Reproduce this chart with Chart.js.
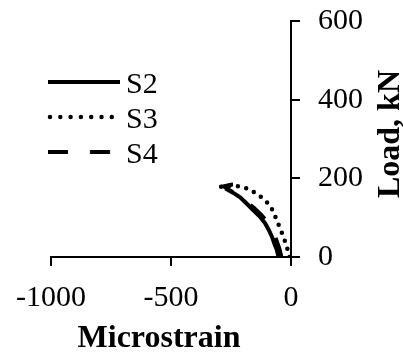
<!DOCTYPE html>
<html>
<head>
<meta charset="utf-8">
<script src="https://cdn.jsdelivr.net/npm/chart.js@4.4.1/dist/chart.umd.min.js"></script>
<style>
html,body{margin:0;padding:0;background:#fff;}
#wrap{width:403px;height:354px;position:relative;}
</style>
</head>
<body>
<div id="wrap"><canvas id="c" width="403" height="354"></canvas></div>
<script>
const seriesNames = ['S2', 'S3', 'S4'];
const s2X = [-52, -60, -70, -79, -92, -108, -130, -158, -185, -212, -240, -262, -272];
const s2Y = [0, 20, 35, 51, 68, 86, 103, 119, 136, 152, 163, 170, 174];
const s3X = [-6, -17, -31, -45, -59, -73, -87, -115, -142, -181, -238, -280, -324];
const s3Y = [0, 25, 51, 72, 93, 114, 131, 148, 161, 174, 182, 180, 175];
const s4X = [-40, -48, -58, -68, -82, -100, -125, -155, -185, -215, -245, -268, -280, -250, -215, -195];
const s4Y = [0, 20, 38, 55, 72, 90, 108, 125, 140, 154, 166, 174, 180, 184, 185, 182];
const xTicks = [-1000, -500, 0];
const yTicks = [0, 200, 400, 600];
const xTitle = 'Microstrain';
const yTitle = 'Load, kN';

const toPts = (xs, ys) => xs.map((x, i) => ({x: x, y: ys[i]}));
const styles = [
  {borderWidth: 4, borderDash: [], borderCapStyle: 'butt'},
  {borderWidth: 4.5, borderDash: [0, 8.5], borderCapStyle: 'round'},
  {borderWidth: 4, borderDash: [20, 22], borderCapStyle: 'butt'}
];
const legendDash = [[], [0, 10.3], [20, 22]];
const dataSets = [toPts(s2X, s2Y), toPts(s3X, s3Y), toPts(s4X, s4Y)];

const serif = '"Liberation Serif", "Times New Roman", serif';

const overlay = {
  id: 'overlay',
  afterDraw(chart) {
    const ctx = chart.ctx;
    ctx.save();
    ctx.fillStyle = '#000';
    ctx.font = 'bold 32px ' + serif;
    ctx.textAlign = 'center';
    ctx.textBaseline = 'alphabetic';
    ctx.fillText(xTitle, 159, 347);
    ctx.save();
    ctx.translate(399, 134);
    ctx.rotate(-Math.PI / 2);
    ctx.fillText(yTitle, 0, 0);
    ctx.restore();
    // legend
    const rowsY = [82, 117, 152];
    ctx.font = '30px ' + serif;
    ctx.textAlign = 'left';
    seriesNames.forEach((n, i) => {
      const st = styles[i];
      ctx.beginPath();
      ctx.lineWidth = st.borderWidth;
      ctx.setLineDash(legendDash[i]);
      ctx.lineCap = st.borderCapStyle;
      ctx.strokeStyle = '#000';
      if (i === 1) { ctx.moveTo(50, rowsY[i]); ctx.lineTo(114, rowsY[i]); }
      else { ctx.moveTo(48, rowsY[i]); ctx.lineTo(120, rowsY[i]); }
      ctx.stroke();
      ctx.setLineDash([]);
      ctx.fillText(n, 126, rowsY[i] + 11);
    });
    ctx.restore();
  }
};

new Chart(document.getElementById('c'), {
  type: 'scatter',
  data: {
    datasets: dataSets.map((d, i) => Object.assign({
      label: seriesNames[i],
      data: d,
      showLine: true,
      pointRadius: 0,
      borderColor: '#000',
      backgroundColor: '#000',
      fill: false,
      tension: 0
    }, styles[i]))
  },
  options: {
    responsive: false,
    animation: false,
    devicePixelRatio: 1,
    layout: {padding: {left: 51, top: 21, right: 0, bottom: 0}},
    plugins: {legend: {display: false}, tooltip: {enabled: false}},
    scales: {
      x: {
        type: 'linear', position: 'bottom', min: -1000, max: 0,
        afterBuildTicks: s => { s.ticks = xTicks.map(v => ({value: v})); },
        afterFit: s => { s.height = 97; s.paddingLeft = 0; s.paddingRight = 0; s.paddingTop = 0; s.paddingBottom = 0; },
        grid: {display: true, drawOnChartArea: false, drawTicks: true, tickLength: 9, lineWidth: 2, color: '#000'},
        border: {display: true, color: '#000', width: 2},
        ticks: {color: '#000', font: {family: serif, size: 30}, padding: 14, maxRotation: 0,
          callback: v => String(v)}
      },
      y: {
        type: 'linear', position: 'right', min: 0, max: 600,
        afterBuildTicks: s => { s.ticks = yTicks.map(v => ({value: v})); },
        afterFit: s => { s.width = 112; s.paddingLeft = 0; s.paddingRight = 0; s.paddingTop = 0; s.paddingBottom = 0; },
        grid: {display: true, drawOnChartArea: false, drawTicks: true, tickLength: 9, lineWidth: 2, color: '#000'},
        border: {display: true, color: '#000', width: 2},
        ticks: {color: '#000', font: {family: serif, size: 30}, padding: 18,
          callback: v => String(v)}
      }
    }
  },
  plugins: [overlay]
});
</script>
</body>
</html>
